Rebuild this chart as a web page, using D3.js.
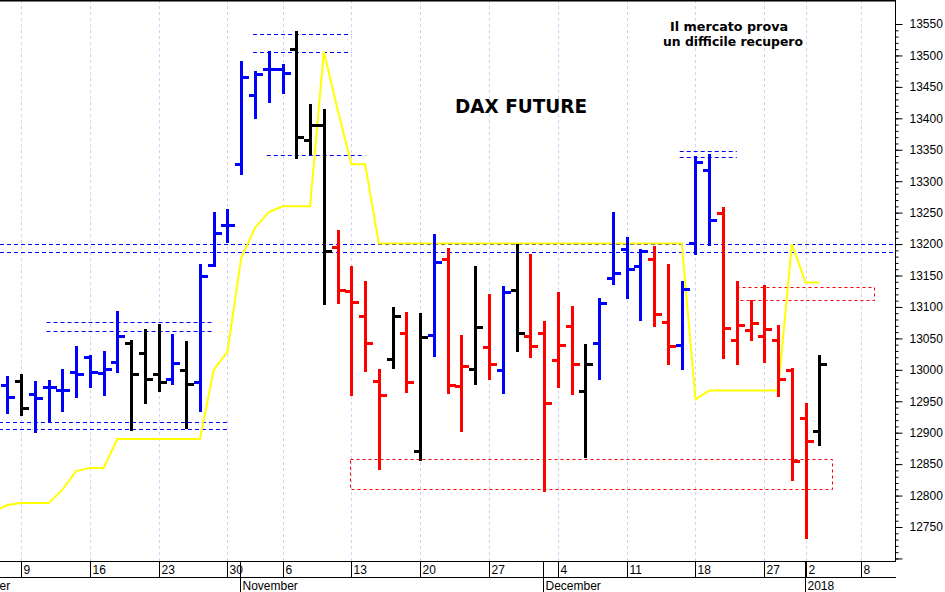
<!DOCTYPE html>
<html><head><meta charset="utf-8">
<script src="https://cdn.jsdelivr.net/npm/d3@7/dist/d3.min.js"></script>
<style>html,body{margin:0;padding:0;background:#fff;}svg{display:block;}</style>
</head><body><div id="chart"></div>
<script>
// ---- trading days shown on the axis (Oct 3, Oct 31, Dec 25/26, Jan 1 closed) ----
const days = [
 "2017-10-02","2017-10-04","2017-10-05","2017-10-06","2017-10-09","2017-10-10","2017-10-11","2017-10-12","2017-10-13",
 "2017-10-16","2017-10-17","2017-10-18","2017-10-19","2017-10-20","2017-10-23","2017-10-24","2017-10-25","2017-10-26","2017-10-27","2017-10-30",
 "2017-11-01","2017-11-02","2017-11-03","2017-11-06","2017-11-07","2017-11-08","2017-11-09","2017-11-10","2017-11-13","2017-11-14","2017-11-15","2017-11-16","2017-11-17",
 "2017-11-20","2017-11-21","2017-11-22","2017-11-23","2017-11-24","2017-11-27","2017-11-28","2017-11-29","2017-11-30",
 "2017-12-01","2017-12-04","2017-12-05","2017-12-06","2017-12-07","2017-12-08","2017-12-11","2017-12-12","2017-12-13","2017-12-14","2017-12-15",
 "2017-12-18","2017-12-19","2017-12-20","2017-12-21","2017-12-22","2017-12-27","2017-12-28","2017-12-29",
 "2018-01-02","2018-01-03","2018-01-04","2018-01-05","2018-01-08","2018-01-09","2018-01-10"];

// ---- OHLC bars (Oct 6 .. Jan 3) ----
const barStart = "2017-10-06", barEnd = "2018-01-03";
const open = [12976,12983,12962,12973,12968,12997,13021,12995,13013,13043,
 13026,12993,12986,12999,12981,13167,13230,13327,13437,13478,
 13478,13510,13365,13390,13196,13126,13086,12982,13017,13058,
 12871,13055,13177,12974,13001,13036,13000,13127,13054,13058,
 13016,13069,12966,13042,13146,13192,13165,13177,13076,13039,
 13202,13318,13249,13048,13063,13054,13048,13000,12924,12902];
const high = [12989,12991,12980,12983,13000,13036,13022,13029,13092,13046,
 13063,13071,13055,13045,13167,13249,13254,13490,13473,13506,
 13485,13537,13421,13413,13220,13164,13139,13000,13098,13091,
 13088,13214,13192,13053,13163,13119,13132,13198,13183,13076,
 13122,13100,13039,13112,13249,13209,13191,13195,13167,13139,
 13338,13342,13257,13139,13110,13133,13070,13001,12945,13022];
const low = [12932,12928,12901,12917,12935,12956,12972,12960,12997,12904,
 12948,12966,12977,12907,12934,13165,13203,13311,13401,13426,
 13440,13337,13343,13104,13107,12960,12998,12843,13003,12965,
 12857,13022,12963,12902,12977,12985,12963,13030,13021,12807,
 12973,12962,12861,12986,13136,13114,13079,13070,13009,13001,
 13184,13199,13018,13009,13047,13013,12959,12824,12732,12881];
const close = [12956,12939,12955,12973,12968,12993,12997,13001,13053,12993,
 12985,12980,13011,12977,13149,13218,13230,13465,13470,13478,
 13472,13371,13390,13189,13127,13108,13042,12960,13086,12980,
 13052,13172,12976,13006,13068,13010,13124,13058,13038,12947,
 13039,13009,13010,13106,13154,13161,13189,13088,13038,13128,
 13331,13239,13066,13071,13074,13065,12986,12855,12887,13010];
const trend = ["b","k","b","b","b","b","b","b","b","k",
 "k","k","b","k","b","b","b","b","b","b",
 "b","k","k","k","r","r","r","r","k","r",
 "k","b","r","r","k","r","b","k","r","r",
 "r","r","k","b","b","b","b","r","r","b",
 "b","b","r","r","r","r","r","r","r","k"];

// ---- yellow line (Oct 5 .. Jan 3) ----
const lineStart = "2017-10-05";
const lineValues = [12774,12785,12788,12788,12788,12809,12839,12844,12844,12890,12890,12890,12890,12890,12890,12890,13000,13029,
 13178,13226,13251,13260,13260,13260,13506,13414,13327,13327,13201,13201,13201,13201,13201,13201,13201,13201,13201,13201,13201,13201,
 13201,13201,13201,13201,13201,13201,13201,13201,13201,13201,13201,12953,12967,12967,12967,12967,12967,12967,13200,
 13139,13139];

// ---- dashed levels ----
const blueLevels = [
 {v:13534, from:"2017-11-02", to:"2017-11-13"},
 {v:13506, from:"2017-11-02", to:"2017-11-13"},
 {v:13341, from:"2017-11-03", to:"2017-11-14"},
 {v:13348, from:"2017-12-15", to:"2017-12-21"},
 {v:13338, from:"2017-12-15", to:"2017-12-21"},
 {v:13076, from:"2017-10-11", to:"2017-10-27"},
 {v:13062, from:"2017-10-11", to:"2017-10-27"},
 {v:12917, from:"2017-10-02", to:"2017-10-30"},
 {v:12906, from:"2017-10-02", to:"2017-10-30"}];
const fullLevels = [13200, 13187];
const redBoxes = [
 {hi:12858, lo:12810, from:"2017-11-13", to:"2018-01-04"},
 {hi:13132, lo:13111, from:"2017-12-21", to:"2018-01-09"}];

// ---- axis labels ----
const weekTicks = ["2017-10-09","2017-10-16","2017-10-23","2017-10-30","2017-11-06","2017-11-13","2017-11-20","2017-11-27",
 "2017-12-04","2017-12-11","2017-12-18","2017-12-27","2018-01-02","2018-01-08"];
const monthTicks = ["2017-10-02","2017-11-01","2017-12-01","2018-01-02"];
const monthLabels = ["October","November","December","2018"];
const yMin = 12700, yMax = 13550;

const title = "DAX FUTURE";
const note = ["Il mercato prova","un difficile recupero"];

// ================= drawing =================
const W = 945, H = 592, plotR = 895, plotB = 561;
const svg = d3.select("#chart").append("svg").attr("width", W).attr("height", H)
  .style("background", "#fff");

const x = d3.scalePoint().domain(days).range([-34.06, 888.2]);
const step = x.step();
const y = d3.scaleLinear().domain([12750, 13550]).range([527, 24]);

svg.append("defs").append("clipPath").attr("id", "clip")
  .append("rect").attr("x", 0).attr("y", 0).attr("width", plotR).attr("height", plotB);
const plot = svg.append("g").attr("clip-path", "url(#clip)");

// vertical gridlines
plot.selectAll("line.grid").data(weekTicks).join("line")
  .attr("x1", d => Math.round(x(d)) + 0.5).attr("x2", d => Math.round(x(d)) + 0.5)
  .attr("y1", 0).attr("y2", plotB)
  .attr("stroke", "#d0d0f4").attr("stroke-width", 1).attr("stroke-dasharray", "3,3");

// blue dashed levels
plot.selectAll("line.lvl").data(blueLevels).join("line")
  .attr("x1", d => x(d.from) - 2).attr("x2", d => x(d.to))
  .attr("y1", d => Math.round(y(d.v)) + 0.5).attr("y2", d => Math.round(y(d.v)) + 0.5)
  .attr("stroke", "#0000ff").attr("stroke-width", 1).attr("stroke-dasharray", "4,3");
plot.selectAll("line.full").data(fullLevels).join("line")
  .attr("x1", 0).attr("x2", plotR)
  .attr("y1", d => Math.round(y(d)) + 0.5).attr("y2", d => Math.round(y(d)) + 0.5)
  .attr("stroke", "#0000ff").attr("stroke-width", 1).attr("stroke-dasharray", "4,3");

// red dashed boxes
plot.selectAll("rect.box").data(redBoxes).join("rect")
  .attr("x", d => Math.round(x(d.from)) - 0.5).attr("y", d => Math.round(y(d.hi)) + 0.5)
  .attr("width", d => Math.round(x(d.to) - x(d.from)))
  .attr("height", d => Math.round(y(d.lo) - y(d.hi)))
  .attr("fill", "none").attr("stroke", "#ff0000").attr("stroke-width", 1).attr("stroke-dasharray", "3,3");

// yellow line
const i0 = days.indexOf(lineStart);
const lineData = lineValues.map((v, i) => ({d: days[i0 + i], v}));
plot.append("path").datum(lineData)
  .attr("d", d3.line().x(p => x(p.d)).y(p => y(p.v)))
  .attr("fill", "none").attr("stroke", "#ffff00").attr("stroke-width", 2).attr("stroke-linejoin", "miter");

// OHLC bars
const b0 = days.indexOf(barStart);
const bars = open.map((o, i) => ({d: days[b0 + i], o, h: high[i], l: low[i], c: close[i], t: trend[i]}));
const colorOf = {b: "#0000ff", r: "#ff0000", k: "#000000"};
const bg = plot.selectAll("g.bar").data(bars).join("g").attr("class", "bar")
  .attr("stroke", d => colorOf[d.t]).attr("stroke-width", 3).attr("shape-rendering", "crispEdges");
const cx = d => Math.round(x(d.d)) + 0.5;
bg.append("line").attr("x1", cx).attr("x2", cx)
  .attr("y1", d => Math.round(y(d.h)) - 1).attr("y2", d => Math.round(y(d.l)) + 1);
bg.append("line").attr("x1", d => cx(d) - 6.5).attr("x2", cx)
  .attr("y1", d => Math.round(y(d.o)) + 0.5).attr("y2", d => Math.round(y(d.o)) + 0.5);
bg.append("line").attr("x1", cx).attr("x2", d => cx(d) + 7)
  .attr("y1", d => Math.round(y(d.c)) + 0.5).attr("y2", d => Math.round(y(d.c)) + 0.5);

// titles
svg.append("text").attr("x", 521).attr("y", 113).attr("text-anchor", "middle")
  .attr("font-family", "DejaVu Sans, Verdana, sans-serif").attr("font-weight", "bold")
  .attr("font-size", 19).attr("textLength", 132).attr("lengthAdjust", "spacingAndGlyphs")
  .attr("fill", "#000").text(title);
svg.selectAll("text.note").data(note).join("text")
  .attr("x", (d, i) => i === 0 ? 729 : 733).attr("y", (d, i) => 31 + i * 15)
  .attr("text-anchor", "middle")
  .attr("font-family", "DejaVu Sans, Verdana, sans-serif").attr("font-weight", "bold")
  .attr("font-size", 12.5).attr("textLength", (d, i) => i === 0 ? 118 : 140)
  .attr("lengthAdjust", "spacingAndGlyphs").attr("fill", "#000").text(d => d);

// frame
svg.append("line").attr("x1", 0).attr("x2", plotR + 0.5).attr("y1", 0.75).attr("y2", 0.75)
  .attr("stroke", "#000").attr("stroke-width", 1.5);
svg.append("line").attr("x1", plotR + 0.5).attr("x2", plotR + 0.5).attr("y1", 0).attr("y2", plotB)
  .attr("stroke", "#000").attr("stroke-width", 1);
svg.append("line").attr("x1", 0).attr("x2", plotR + 1).attr("y1", plotB + 0.5).attr("y2", plotB + 0.5)
  .attr("stroke", "#000").attr("stroke-width", 1);
svg.append("line").attr("x1", 0).attr("x2", plotR + 1).attr("y1", 577.5).attr("y2", 577.5)
  .attr("stroke", "#000").attr("stroke-width", 1);

// right axis: minor and major ticks
const minorVals = d3.range(yMin, yMax + 1, 10);
const majorVals = d3.range(yMin, yMax + 1, 50);
const yAxisMinor = d3.axisRight(y).tickValues(minorVals).tickSize(3).tickFormat("");
const yAxisMajor = d3.axisRight(y).tickValues(majorVals).tickSize(7).tickPadding(7)
  .tickFormat(v => v >= 12750 ? String(v) : "");
const ga1 = svg.append("g").attr("transform", `translate(${plotR + 0.5},0)`).call(yAxisMinor);
const ga2 = svg.append("g").attr("transform", `translate(${plotR + 0.5},0)`).call(yAxisMajor);
[ga1, ga2].forEach(g => { g.select(".domain").remove(); g.selectAll("line").attr("stroke", "#000"); });
ga2.selectAll("text").attr("font-family", "Liberation Sans, Arial, sans-serif").attr("font-size", 12).attr("fill", "#000");

// bottom axis: week labels
const xAxisWeek = d3.axisBottom(x).tickValues(weekTicks).tickSize(16).tickSizeOuter(0)
  .tickFormat(d => String(+d.slice(8)));
const gw = svg.append("g").attr("transform", `translate(0,${plotB})`).call(xAxisWeek);
gw.select(".domain").remove();
gw.selectAll(".tick line").attr("stroke", "#000").attr("transform", "translate(0.5,0)");
gw.selectAll(".tick line").attr("x1", 0).attr("x2", 0);
gw.selectAll(".tick").attr("transform", d => `translate(${Math.round(x(d))},0)`);
gw.selectAll("text").attr("x", 2.5).attr("y", 12.5).attr("dy", 0).attr("text-anchor", "start")
  .attr("font-family", "Liberation Sans, Arial, sans-serif").attr("font-size", 12).attr("fill", "#000");

// bottom axis: month labels
const xAxisMonth = d3.axisBottom(x).tickValues(monthTicks).tickSize(31).tickSizeOuter(0)
  .tickFormat((d, i) => monthLabels[i]);
const gm = svg.append("g").attr("transform", `translate(0,${plotB})`).call(xAxisMonth);
gm.select(".domain").remove();
gm.selectAll(".tick").attr("transform", d => `translate(${Math.round(x(d)) - 1},0)`);
gm.selectAll(".tick line").attr("stroke", "#000").attr("x1", 0.5).attr("x2", 0.5);
gm.selectAll("text").attr("x", 2.5).attr("y", 28.5).attr("dy", 0).attr("text-anchor", "start")
  .attr("font-family", "Liberation Sans, Arial, sans-serif").attr("font-size", 12).attr("fill", "#000");
</script>
</body></html>
